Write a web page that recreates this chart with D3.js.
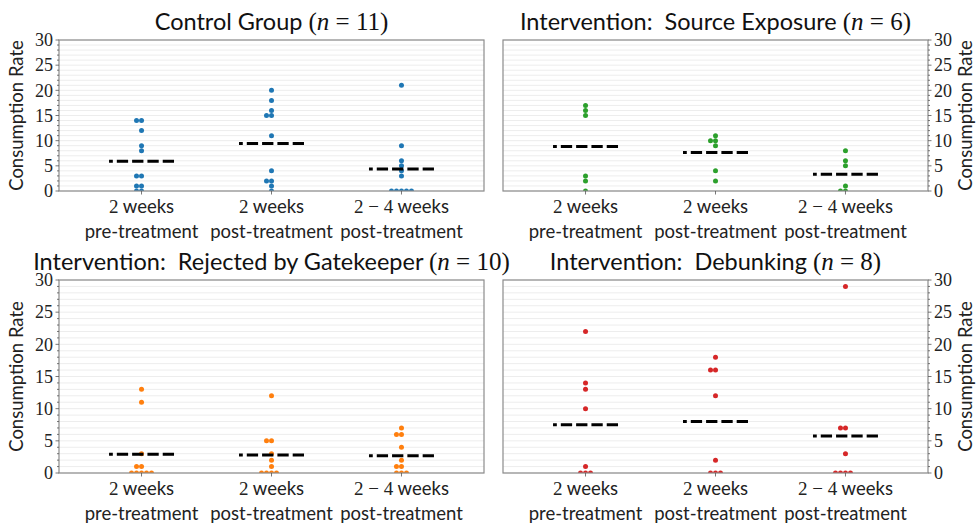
<!DOCTYPE html>
<html lang="en">
<head>
<meta charset="UTF-8">
<title>Consumption Rate by Group</title>
<script src="https://d3js.org/d3.v7.min.js"></script>
<style>
  body { margin: 0; background: #fff; }
  .sans { font-family: Lato, "Open Sans", sans-serif; }
  .serif { font-family: "Liberation Serif", serif; }
</style>
</head>
<body>
<script>
// period labels (x axis)
const periodNum = ["2", "2", "2 \u2212 4"];
const periodUnit = " weeks";
const periodPhase = ["pre-treatment", "post-treatment", "post-treatment"];

// panel titles and group sizes
const titles = ["Control Group", "Intervention:  Source Exposure", "Intervention:  Rejected by Gatekeeper", "Intervention:  Debunking"];
const groupN = [11, 6, 10, 8];
const colors = ["#1f77b4", "#2ca02c", "#ff7f0e", "#d62728"];

// consumption rates per participant, one list per period
const control = [
  [14, 14, 12, 9, 8, 3, 3, 1, 1, 0, 0],
  [20, 18, 16, 15, 15, 11, 4, 2, 2, 1, 0],
  [21, 9, 6, 5, 4, 3, 0, 0, 0, 0, 0]
];
const sourceExposure = [
  [17, 16, 15, 3, 2, 0],
  [11, 10, 10, 9, 4, 2],
  [8, 6, 5, 1, 0, 0]
];
const gatekeeper = [
  [13, 11, 3, 1, 1, 0, 0, 0, 0, 0],
  [12, 5, 5, 3, 2, 1, 0, 0, 0, 0],
  [7, 6, 6, 4, 2, 1, 1, 0, 0, 0]
];
const debunking = [
  [22, 14, 13, 10, 1, 0, 0, 0],
  [18, 16, 16, 12, 2, 0, 0, 0],
  [29, 7, 7, 3, 0, 0, 0, 0]
];
const yTicks = [0, 5, 10, 15, 20, 25, 30];

const groups = [control, sourceExposure, gatekeeper, debunking];

const W = 979, H = 527;
const boxes = [
  { x: 59, y: 40, w: 425, h: 151, side: "left" },
  { x: 503, y: 40, w: 425, h: 151, side: "right" },
  { x: 59, y: 280, w: 425, h: 193, side: "left" },
  { x: 503, y: 280, w: 425, h: 193, side: "right" }
];

const svg = d3.select("body").append("svg")
  .attr("width", W)
  .attr("height", H);

const R = 2.5;

// simple beeswarm, left side wins ties like seaborn
function swarm(values, y) {
  const placed = [];
  values.slice().sort((a, b) => a - b).forEach(v => {
    const py = y(v);
    const near = placed.filter(p => Math.abs(p.y - py) < 2 * R);
    const cands = [0];
    near.forEach(p => {
      const dy = p.y - py;
      const dx = Math.sqrt(4 * R * R - dy * dy);
      cands.push(p.dx - dx, p.dx + dx);
    });
    cands.sort((a, b) => Math.abs(a) - Math.abs(b));
    const best = cands.find(c => near.every(p => (p.dx - c) ** 2 + (p.y - py) ** 2 >= 4 * R * R - 1e-6));
    placed.push({ v: v, dx: best, y: py });
  });
  return placed;
}

boxes.forEach((b, i) => {
  const g = svg.append("g");
  const x = d3.scaleLinear().domain([-0.635, 2.635]).range([b.x, b.x + b.w]);
  const y = d3.scaleLinear().domain([0, 30]).range([b.y + b.h, b.y]);

  // faint gridlines
  g.selectAll(".grid")
    .data(d3.range(0, 31))
    .enter().append("line")
    .attr("x1", b.x).attr("x2", b.x + b.w)
    .attr("y1", d => y(d)).attr("y2", d => y(d))
    .attr("stroke", "#ededed")
    .attr("stroke-width", 1);

  const clipId = "clip" + i;
  svg.append("clipPath").attr("id", clipId)
    .append("rect")
    .attr("x", b.x).attr("y", b.y).attr("width", b.w).attr("height", b.h);

  const plot = g.append("g").attr("clip-path", `url(#${clipId})`);

  groups[i].forEach((vals, k) => {
    const pts = swarm(vals, y);
    plot.selectAll(".dot" + k)
      .data(pts)
      .enter().append("circle")
      .attr("cx", d => x(k) + d.dx)
      .attr("cy", d => d.y)
      .attr("r", R)
      .attr("fill", colors[i]);

    const m = d3.mean(vals);
    plot.append("line")
      .attr("x1", x(k + 0.25)).attr("x2", x(k - 0.25))
      .attr("y1", y(m)).attr("y2", y(m))
      .attr("stroke", "#000")
      .attr("stroke-width", 3)
      .attr("stroke-dasharray", "11.3 4");
  });

  // frame
  g.append("rect")
    .attr("x", b.x).attr("y", b.y).attr("width", b.w).attr("height", b.h)
    .attr("fill", "none")
    .attr("stroke", "#8c8c8c")
    .attr("stroke-width", 1.2);

  // y ticks
  const edge = b.side === "left" ? b.x : b.x + b.w;
  const dir = b.side === "left" ? -1 : 1;
  g.selectAll(".minor")
    .data(d3.range(0, 31))
    .enter().append("line")
    .attr("x1", edge).attr("x2", d => edge + dir * (d % 5 === 0 ? 3.5 : 2))
    .attr("y1", d => y(d)).attr("y2", d => y(d))
    .attr("stroke", "#555")
    .attr("stroke-width", 0.8);

  g.selectAll(".ylab")
    .data(yTicks)
    .enter().append("text")
    .attr("class", "serif")
    .attr("x", edge + dir * 6)
    .attr("y", d => y(d))
    .attr("dy", "0.35em")
    .attr("text-anchor", b.side === "left" ? "end" : "start")
    .attr("font-size", 18)
    .attr("fill", "#222")
    .text(d => d);

  const lx = b.side === "left" ? 17 : 966;
  g.append("text")
    .attr("class", "sans")
    .attr("transform", `translate(${lx},${b.y + b.h / 2}) rotate(-90)`)
    .attr("text-anchor", "middle")
    .attr("dy", "0.35em")
    .attr("font-size", 18.5)
    .attr("fill", "#222")
    .text("Consumption Rate");

  // x ticks and labels
  [0, 1, 2].forEach(k => {
    g.append("line")
      .attr("x1", x(k)).attr("x2", x(k))
      .attr("y1", b.y + b.h).attr("y2", b.y + b.h + 3.5)
      .attr("stroke", "#555").attr("stroke-width", 0.8);

    const t1 = g.append("text")
      .attr("x", x(k)).attr("y", b.y + b.h + 22)
      .attr("text-anchor", "middle")
      .attr("font-size", 18.5)
      .attr("fill", "#222");
    t1.append("tspan").attr("class", "serif").attr("font-size", 19).text(periodNum[k]);
    t1.append("tspan").attr("class", "sans").text(periodUnit);

    g.append("text")
      .attr("class", "sans")
      .attr("x", x(k)).attr("y", b.y + b.h + 47)
      .attr("text-anchor", "middle")
      .attr("font-size", 18.5)
      .attr("fill", "#222")
      .text(periodPhase[k]);
  });

  // title
  const tt = g.append("text")
    .attr("x", b.x + b.w / 2).attr("y", b.y - 10)
    .attr("text-anchor", "middle")
    .attr("font-size", 23.5)
    .attr("fill", "#111");
  tt.append("tspan").attr("class", "sans").style("white-space", "pre").text(titles[i] + " ");
  tt.append("tspan").attr("class", "serif").attr("font-size", 25).text("(");
  tt.append("tspan").attr("class", "serif").attr("font-size", 25).attr("font-style", "italic").text("n");
  tt.append("tspan").attr("class", "serif").attr("font-size", 25).text(" = " + groupN[i] + ")");
});
</script>
</body>
</html>
